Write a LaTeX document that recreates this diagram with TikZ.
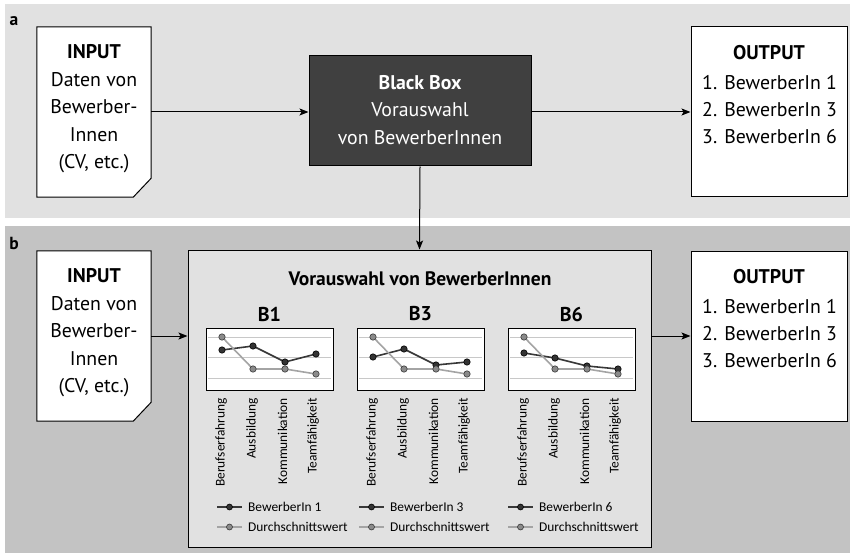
\documentclass[tikz,border=0pt]{standalone}
\usepackage{fontspec}
\setmainfont{PT Sans}
\newfontfamily\calib{Carlito}
\usetikzlibrary{arrows.meta,calc}
\definecolor{panela}{HTML}{E1E1E1}
\definecolor{panelb}{HTML}{C3C3C3}
\definecolor{mainfill}{HTML}{E1E1E1}
\definecolor{bbfill}{HTML}{404040}
\definecolor{gridc}{HTML}{C8C8C8}
\definecolor{darkc}{HTML}{383838}
\definecolor{darkdotc}{HTML}{333333}
\definecolor{avgline}{HTML}{A4A4A4}
\definecolor{avgdot}{HTML}{8A8A8A}
\begin{document}
\begin{tikzpicture}[x=1pt,y=-1pt,
  boxline/.style={draw=black,line width=1pt},
  docbox/.style={minimum width=114pt,minimum height=170pt,inner sep=0pt},
  outbox/.style={boxline,fill=white,minimum width=156pt,minimum height=170pt,inner sep=0pt},
  maintext/.style={font=\fontsize{19.8}{27.5}\selectfont,inner sep=0pt},
  arr/.style={line width=1pt,-{Stealth[length=9pt,width=7pt,inset=2pt]}},
  gridline/.style={draw=gridc,line width=0.9pt},
  darkline/.style={draw=darkc,line width=1.6pt},
  avgl/.style={draw=avgline,line width=1.6pt},
  darkdot/.style={fill=darkdotc,draw=black,line width=0.6pt},
  avgd/.style={fill=avgdot,draw=darkc,line width=0.6pt},
  smalllab/.style={font=\calib\fontsize{13.4}{15}\selectfont,inner sep=0pt},
  paneltag/.style={font=\bfseries\fontsize{17.5}{19}\selectfont,inner sep=0pt}
]
\useasboundingbox (0,0) rectangle (850,553);
% panels
\fill[panela] (5,4) rectangle (850,218);
\fill[panelb] (5,226) rectangle (850,553);
\node[paneltag] (taga) at (14,21) {a};
\node[paneltag] (tagb) at (14,243) {b};

% ---------- panel a ----------
\node[docbox] (inA) at (94,112) {};
\draw[boxline,fill=white] (inA.north west) -- (inA.north east) -- ($(inA.south east)+(0,-19)$) -- ($(inA.south east)+(-18,0)$) -- (inA.south west) -- cycle;
\node[maintext,align=center] (inAtxt) at (94,109) {\textbf{INPUT}\\Daten von\\Bewerber-\\Innen\\(CV, etc.)};

\node[boxline,fill=bbfill,minimum width=222pt,minimum height=110pt,inner sep=0pt] (bb) at (420,111) {};
\node[maintext,align=center,text=white] (bbtxt) at (420,110) {\textbf{Black Box}\\Vorauswahl\\von BewerberInnen};

\node[outbox] (outA) at (769,112) {};
\node[maintext,font=\bfseries\fontsize{19.8}{27.5}\selectfont] (outAt) at (769,53) {OUTPUT};
\node[maintext,anchor=base west] (outA1) at (702,90) {1. BewerberIn 1};
\node[maintext,anchor=base west] (outA2) at (702,117) {2. BewerberIn 3};
\node[maintext,anchor=base west] (outA3) at (702,144) {3. BewerberIn 6};

\draw[arr] (inA.east) -- (inA.east -| bb.west);
\draw[arr] (bb.east |- outA.west) -- (outA.west);

% ---------- panel b ----------
\node[docbox] (inB) at (94,336) {};
\draw[boxline,fill=white] (inB.north west) -- (inB.north east) -- ($(inB.south east)+(0,-19)$) -- ($(inB.south east)+(-18,0)$) -- (inB.south west) -- cycle;
\node[maintext,align=center] (inBtxt) at (94,333) {\textbf{INPUT}\\Daten von\\Bewerber-\\Innen\\(CV, etc.)};

\node[boxline,fill=mainfill,minimum width=463pt,minimum height=297pt,inner sep=0pt] (mainB) at (419.5,398.5) {};
\node[maintext,font=\bfseries\fontsize{19.5}{27.5}\selectfont] (mainT) at (420,279) {Vorauswahl von BewerberInnen};

\node[outbox] (outB) at (769,336) {};
\node[maintext,font=\bfseries\fontsize{19.8}{27.5}\selectfont] (outBt) at (769,277) {OUTPUT};
\node[maintext,anchor=base west] (outB1) at (702,313) {1. BewerberIn 1};
\node[maintext,anchor=base west] (outB2) at (702,340) {2. BewerberIn 3};
\node[maintext,anchor=base west] (outB3) at (702,367) {3. BewerberIn 6};

\draw[arr] (bb.south) -- (mainB.north);
\draw[arr] (inB.east) -- (inB.east -| mainB.west);
\draw[arr] (mainB.east |- outB.west) -- (outB.west);

% charts
\foreach \nm/\x/\ya/\yb/\yc/\yd/\lab/\lx in {B1/206/350/346/362/354/1/217, B3/357/357/349/365/362/3/359, B6/508/353/358/366/369/6/508} {
  \node[maintext,font=\bfseries\fontsize{20}{24}\selectfont] (t\nm) at (\x+63.5,314) {\nm};
  \node[boxline,fill=white,minimum width=127pt,minimum height=62pt,inner sep=0pt] (c\nm) at (\x+63.5,359) {};
  \foreach \g in {337,357,378} { \draw[gridline] (\x+2,\g) -- (\x+125,\g); }
  \draw[darkline] (\x+16,\ya) -- (\x+47,\yb) -- (\x+79,\yc) -- (\x+110,\yd);
  \foreach \px/\py in {16/\ya,47/\yb,79/\yc,110/\yd} { \draw[darkdot] (\x+\px,\py) circle (3.2pt); }
  \draw[avgl] (\x+16,337) -- (\x+47,369) -- (\x+79,369) -- (\x+110,374);
  \foreach \px/\py in {16/337,47/369,79/369,110/374} { \draw[avgd] (\x+\px,\py) circle (3.2pt); }
  \node[smalllab,rotate=90,anchor=east] (l1\nm) at (\x+15,398) {Berufserfahrung};
  \node[smalllab,rotate=90,anchor=east] (l2\nm) at (\x+46,398) {Ausbildung};
  \node[smalllab,rotate=90,anchor=east] (l3\nm) at (\x+76.5,398) {Kommunikation};
  \node[smalllab,rotate=90,anchor=east] (l4\nm) at (\x+107,398) {Teamfähigkeit};
  % legend
  \draw[darkline] (\lx,507) -- (\lx+25,507);
  \draw[darkdot] (\lx+12.5,507) circle (3pt);
  \node[smalllab,anchor=west] (lg\nm) at (\lx+31,507) {BewerberIn \lab};
  \draw[avgl,line width=1.3pt] (\lx,527) -- (\lx+25,527);
  \draw[avgd] (\lx+12.5,527) circle (3pt);
  \node[smalllab,anchor=west] (la\nm) at (\lx+31,527) {Durchschnittswert};
}
\end{tikzpicture}
\end{document}
